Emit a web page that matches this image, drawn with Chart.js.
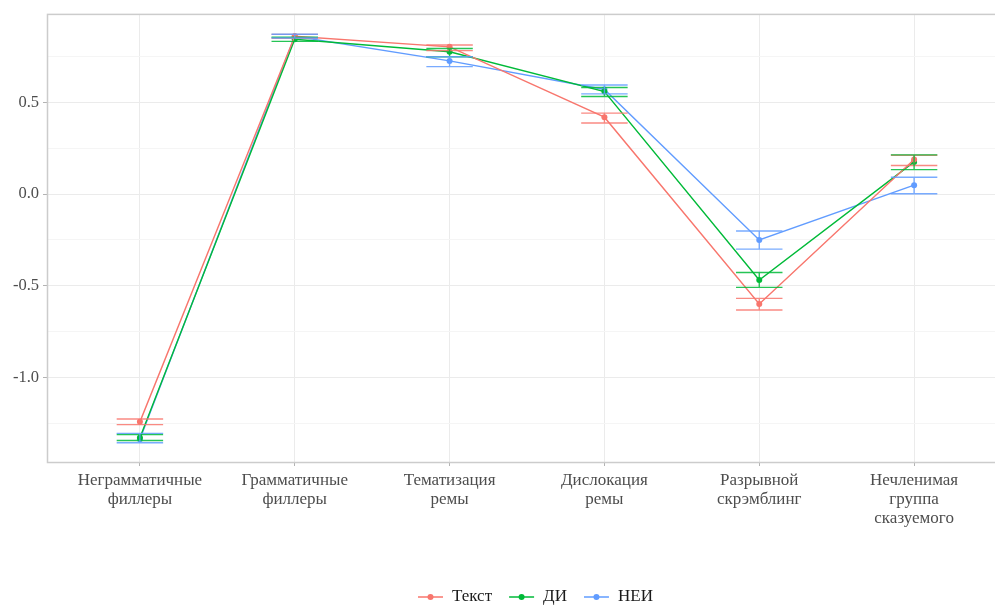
<!DOCTYPE html>
<html>
<head>
<meta charset="utf-8">
<script src="https://cdn.jsdelivr.net/npm/chart.js@4/dist/chart.umd.min.js"></script>
<style>
html,body{margin:0;padding:0;background:#fff;overflow:hidden;width:995px;height:606px;}
#wrap{position:absolute;left:0;top:0;width:1010px;height:606px;}
</style>
</head>
<body>
<div id="wrap"><canvas id="c" width="1010" height="606"></canvas></div>
<script>
const categories = [
  ["Неграмматичные","филлеры"],
  ["Грамматичные","филлеры"],
  ["Тематизация","ремы"],
  ["Дислокация","ремы"],
  ["Разрывной","скрэмблинг"],
  ["Нечленимая","группа","сказуемого"]
];
const seriesNames = ["Текст","ДИ","НЕИ"];
const seriesColors = ["#F8766D","#00BA38","#619CFF"];

const textMean = [-1.243, 0.862, 0.804, 0.420, -0.600, 0.189];
const textLo   = [-1.258, 0.850, 0.783, 0.388, -0.632, 0.156];
const textHi   = [-1.227, 0.872, 0.814, 0.442, -0.569, 0.212];

const diMean = [-1.330, 0.845, 0.777, 0.560, -0.469, 0.176];
const diLo   = [-1.345, 0.834, 0.750, 0.533, -0.509, 0.134];
const diHi   = [-1.312, 0.856, 0.795, 0.582, -0.428, 0.214];

const neiMean = [-1.338, 0.862, 0.727, 0.571, -0.250, 0.049];
const neiLo   = [-1.357, 0.852, 0.696, 0.547, -0.300, 0.002];
const neiHi   = [-1.306, 0.873, 0.750, 0.596, -0.201, 0.092];

const yTickValues = [-1.0, -0.5, 0.0, 0.5];

const means = [textMean, diMean, neiMean];
const lows = [textLo, diLo, neiLo];
const highs = [textHi, diHi, neiHi];

const datasets = seriesNames.map((name, s) => ({
  label: name,
  data: means[s].map((v, i) => ({x: i + 1, y: v})),
  borderColor: seriesColors[s],
  backgroundColor: seriesColors[s],
  borderWidth: 1.4,
  pointRadius: 3,
  pointHoverRadius: 3,
  pointBorderWidth: 0,
  tension: 0
}));

const serif = "'Liberation Serif', 'DejaVu Serif', serif";

const errPlugin = {
  id: 'errbars',
  beforeDatasetsDraw(chart) {
    const {ctx, chartArea: a} = chart;
    ctx.save();
    ctx.strokeStyle = '#cccccc';
    ctx.lineWidth = 1.5;
    ctx.strokeRect(a.left + 0.5, a.top + 0.5, a.right - a.left, a.bottom - a.top);
    ctx.restore();
  },
  afterDatasetsDraw(chart) {
    const {ctx} = chart;
    const xs = chart.scales.x, ys = chart.scales.y;
    ctx.save();
    ctx.lineWidth = 1.4;
    ctx.globalAlpha = 0.85;
    for (let s = 0; s < 3; s++) {
      ctx.strokeStyle = seriesColors[s];
      for (let i = 0; i < categories.length; i++) {
        const xc = xs.getPixelForValue(i + 1);
        const xl = xs.getPixelForValue(i + 1 - 0.15);
        const xr = xs.getPixelForValue(i + 1 + 0.15);
        const yl = ys.getPixelForValue(lows[s][i]);
        const yh = ys.getPixelForValue(highs[s][i]);
        ctx.beginPath();
        ctx.moveTo(xl, yh); ctx.lineTo(xr, yh);
        ctx.moveTo(xl, yl); ctx.lineTo(xr, yl);
        ctx.moveTo(xc, yh); ctx.lineTo(xc, yl);
        ctx.stroke();
      }
    }
    ctx.restore();
  },
  afterDraw(chart) {
    const {ctx} = chart;
    ctx.save();
    ctx.font = "17px " + serif;
    ctx.textBaseline = 'middle';
    const y = 597;
    const symW = 25, gapSym = 9, gapItem = 17;
    const widths = seriesNames.map(n => ctx.measureText(n).width);
    let x = 418;
    seriesNames.forEach((n, i) => {
      ctx.strokeStyle = seriesColors[i];
      ctx.fillStyle = seriesColors[i];
      ctx.lineWidth = 1.5;
      ctx.beginPath(); ctx.moveTo(x, y); ctx.lineTo(x + symW, y); ctx.stroke();
      ctx.beginPath(); ctx.arc(x + symW / 2, y, 3, 0, Math.PI * 2); ctx.fill();
      x += symW + gapSym;
      ctx.fillStyle = '#1a1a1a';
      ctx.textAlign = 'left';
      ctx.fillText(n, x, y);
      x += widths[i] + gapItem;
    });
    ctx.restore();
  }
};

const isMajor = v => Math.abs(v * 2 - Math.round(v * 2)) < 1e-6;

new Chart(document.getElementById('c'), {
  type: 'line',
  data: {datasets},
  plugins: [errPlugin],
  options: {
    responsive: false,
    animation: false,
    events: [],
    layout: {padding: {top: 10, left: 0, right: 2, bottom: 0}},
    plugins: {legend: {display: false}, tooltip: {enabled: false}},
    scales: {
      x: {
        type: 'linear',
        min: 0.4, max: 6.6,
        afterBuildTicks: sc => { sc.ticks = categories.map((c, i) => ({value: i + 1})); },
        afterFit: sc => { sc.height = 606 - 462; },
        border: {display: false},
        grid: {color: '#ebebeb', lineWidth: 1, tickLength: 4, tickColor: '#b3b3b3', drawTicks: true},
        ticks: {
          autoSkip: false, maxRotation: 0, padding: 5,
          color: '#4d4d4d',
          font: {family: serif, size: 17, lineHeight: 1.12},
          callback: v => categories[Math.round(v) - 1]
        }
      },
      y: {
        type: 'linear',
        min: -1.462, max: 0.9837,
        afterBuildTicks: sc => {
          const t = [];
          for (let v = -1.25; v <= 0.76; v += 0.25) t.push({value: Math.round(v * 100) / 100});
          sc.ticks = t;
        },
        afterFit: sc => { sc.width = 47; },
        border: {display: false},
        grid: {
          color: ctx => isMajor(ctx.tick.value) ? '#ebebeb' : '#f5f5f5',
          tickColor: ctx => isMajor(ctx.tick.value) ? '#b3b3b3' : 'rgba(0,0,0,0)',
          lineWidth: 1, tickLength: 4
        },
        ticks: {
          padding: 4, color: '#4d4d4d',
          font: {family: serif, size: 16.5},
          callback: v => yTickValues.some(t => Math.abs(t - v) < 1e-6) ? v.toFixed(1) : ''
        }
      }
    }
  }
});
</script>
</body>
</html>
